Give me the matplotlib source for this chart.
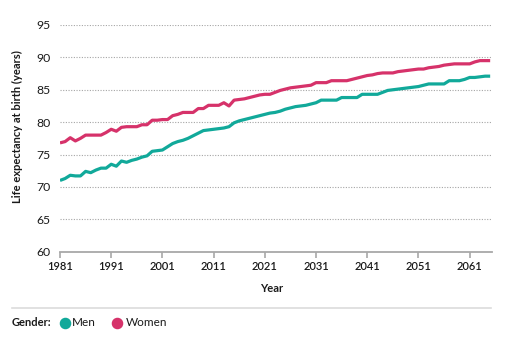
import matplotlib
matplotlib.use("Agg")
import matplotlib.pyplot as plt
from matplotlib.lines import Line2D

plt.rcParams['font.family'] = ['Lato', 'DejaVu Sans']

years = list(range(1981, 2066))

men = [71.0, 71.3, 71.8, 71.7, 71.7, 72.4, 72.2, 72.6, 72.9, 72.9,
       73.5, 73.2, 74.0, 73.8, 74.1, 74.3, 74.6, 74.8, 75.5, 75.6,
       75.7, 76.2, 76.7, 77.0, 77.2, 77.5, 77.9, 78.3, 78.7, 78.8,
       78.9, 79.0, 79.1, 79.3, 79.9, 80.2, 80.4, 80.6, 80.8, 81.0,
       81.2, 81.4, 81.5, 81.7, 82.0, 82.2, 82.4, 82.5, 82.6, 82.8,
       83.0, 83.4, 83.4, 83.4, 83.4, 83.8, 83.8, 83.8, 83.8, 84.3,
       84.3, 84.3, 84.3, 84.6, 84.9, 85.0, 85.1, 85.2, 85.3, 85.4,
       85.5, 85.7, 85.9, 85.9, 85.9, 85.9, 86.4, 86.4, 86.4, 86.6,
       86.9, 86.9, 87.0, 87.1, 87.1]

women = [76.8, 77.0, 77.6, 77.1, 77.5, 78.0, 78.0, 78.0, 78.0, 78.4,
         78.9, 78.6, 79.2, 79.3, 79.3, 79.3, 79.6, 79.6, 80.3, 80.3,
         80.4, 80.4, 81.0, 81.2, 81.5, 81.5, 81.5, 82.1, 82.1, 82.6,
         82.6, 82.6, 83.0, 82.5, 83.4, 83.5, 83.6, 83.8, 84.0, 84.2,
         84.3, 84.3, 84.6, 84.9, 85.1, 85.3, 85.4, 85.5, 85.6, 85.7,
         86.1, 86.1, 86.1, 86.4, 86.4, 86.4, 86.4, 86.6, 86.8, 87.0,
         87.2, 87.3, 87.5, 87.6, 87.6, 87.6, 87.8, 87.9, 88.0, 88.1,
         88.2, 88.2, 88.4, 88.5, 88.6, 88.8, 88.9, 89.0, 89.0, 89.0,
         89.0, 89.3, 89.5, 89.5, 89.5]

x_ticks = [1981, 1991, 2001, 2011, 2021, 2031, 2041, 2051, 2061]
y_ticks = [60, 65, 70, 75, 80, 85, 90, 95]

MEN_COLOR = '#11A99A'
WOMEN_COLOR = '#D6326A'
TEXT = '#1a1a1a'
W, H = 509, 337

fig = plt.figure(figsize=(W / 100, H / 100), dpi=100)
ax = fig.add_axes([60 / W, (H - 251.7) / H, (491.7 - 60) / W, (251.7 - 25) / H])

ax.plot(years, men, color=MEN_COLOR, lw=2.3, solid_capstyle='butt', zorder=3)
ax.plot(years, women, color=WOMEN_COLOR, lw=2.3, solid_capstyle='butt', zorder=3)

ax.set_xlim(1981, 2065.3)
ax.set_ylim(60, 95)
ax.set_xticks(x_ticks)
ax.set_yticks(y_ticks)
ax.set_xticklabels([str(t) for t in x_ticks], fontsize=8, fontweight='semibold', color=TEXT)
ax.set_yticklabels([str(t) for t in y_ticks], fontsize=8.8, color=TEXT)

for v in y_ticks[1:]:
    ax.axhline(v, color='#a5a5a5', lw=0.8, ls=(0, (1, 1.4)), zorder=1)

for s in ['top', 'right', 'left']:
    ax.spines[s].set_visible(False)
ax.spines['bottom'].set_color('#a8a8a8')
ax.spines['bottom'].set_linewidth(1.3)
ax.tick_params(axis='x', length=4, width=1.2, color='#a8a8a8', pad=3)
ax.tick_params(axis='y', length=0, pad=7)

fig.text(272 / W, 1 - 289 / H, 'Year', ha='center', va='center',
         fontsize=8, fontweight='bold', color=TEXT)
fig.text(17 / W, 1 - 127 / H, 'Life expectancy at birth (years)', rotation=90,
         ha='center', va='center', fontsize=8, fontweight='bold', color=TEXT)

# separator above the legend
fig.add_artist(Line2D([12 / W, 491 / W], [1 - 307.5 / H, 1 - 307.5 / H],
                      color='#dcdcdc', lw=1.2))

ly = 1 - 322.7 / H
fig.text(12 / W, ly, 'Gender:', ha='left', va='center', fontsize=8,
         fontweight='bold', color=TEXT)
fig.add_artist(Line2D([64.5 / W], [ly], marker='o', ms=7.3, color=MEN_COLOR, lw=0))
fig.text(72 / W, ly, 'Men', ha='left', va='center', fontsize=8.5, color=TEXT)
fig.add_artist(Line2D([116.5 / W], [ly], marker='o', ms=7.3, color=WOMEN_COLOR, lw=0))
fig.text(126 / W, ly, 'Women', ha='left', va='center', fontsize=8.5, color=TEXT)

fig.savefig('out.png', dpi=100)
